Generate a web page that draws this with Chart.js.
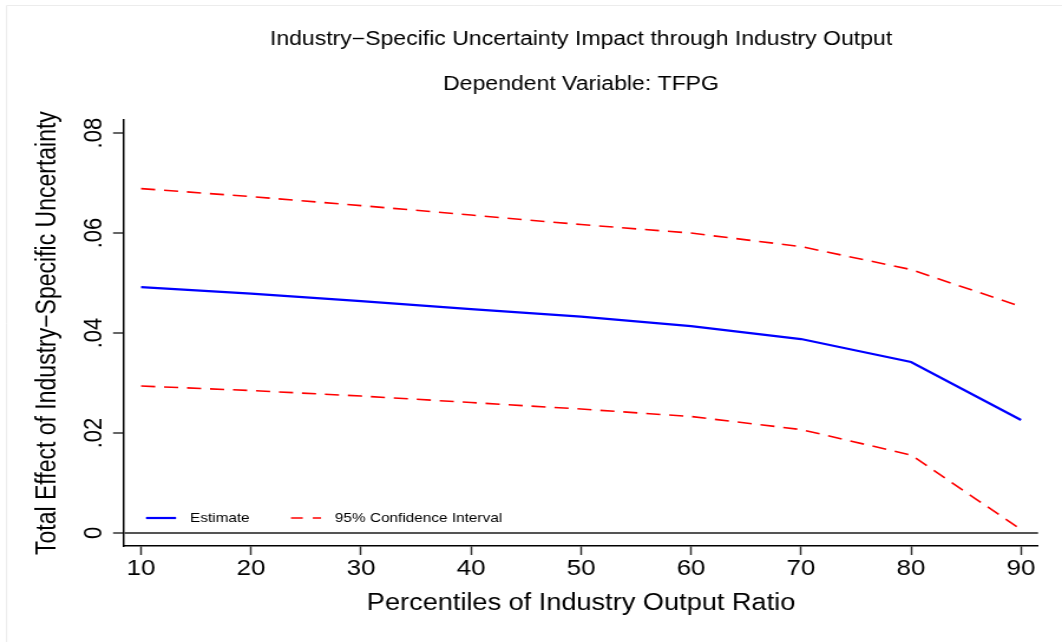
<!DOCTYPE html>
<html>
<head>
<meta charset="utf-8">
<script src="https://cdn.jsdelivr.net/npm/chart.js@4.4.1/dist/chart.umd.min.js"></script>
<style>
  html, body { margin: 0; padding: 0; background: #fff; overflow: hidden; }
  /* Graph is laid out on a 900px-wide canvas and widened to the 1062px window */
  #wrap { width: 900px; height: 642px; transform: scaleX(1.18); transform-origin: 0 0; }
  #c { display: block; width: 900px; height: 642px; }
</style>
</head>
<body>
<div id="wrap"><canvas id="c" width="900" height="642"></canvas></div>
<script>
// Percentiles of the industry output ratio
const percentiles = [10, 20, 30, 40, 50, 60, 70, 80, 90];
// Total effect of industry-specific uncertainty
const estimate = [0.0492, 0.0479, 0.0464, 0.0448, 0.0433, 0.0414, 0.0388, 0.0342, 0.0226];
const ciUpper  = [0.0689, 0.0673, 0.0655, 0.0636, 0.0617, 0.0600, 0.0573, 0.0527, 0.0453];
const ciLower  = [0.0294, 0.0285, 0.0274, 0.0261, 0.0248, 0.0233, 0.0207, 0.0156, 0.0007];

const xTicks = [10, 20, 30, 40, 50, 60, 70, 80, 90];
const yTicks = [0, 0.02, 0.04, 0.06, 0.08];
const yTickLabels = ['0', '.02', '.04', '.06', '.08'];

const titleText = 'Industry\u2212Specific Uncertainty Impact through Industry Output';
const subtitleText = 'Dependent Variable: TFPG';
const xTitle = 'Percentiles of Industry Output Ratio';
const yTitle = 'Total Effect of Industry\u2212Specific Uncertainty';
const seriesLabels = ['Estimate', '95% Confidence Interval'];

const FONT = "'Liberation Sans', Arial, Helvetica, sans-serif";
const toPoints = ys => percentiles.map((p, i) => ({ x: p, y: ys[i] }));

// White page with the faint outer frame
const pageFrame = {
  id: 'pageFrame',
  beforeDraw(chart) {
    const { ctx, width, height } = chart;
    ctx.save();
    ctx.fillStyle = '#fff';
    ctx.fillRect(0, 0, width, height);
    ctx.strokeStyle = '#ececec';
    ctx.lineWidth = 1;
    ctx.beginPath();
    ctx.moveTo(5.6, height);
    ctx.lineTo(5.6, 5.5);
    ctx.lineTo(width, 5.5);
    ctx.stroke();
    ctx.restore();
  }
};

// Key drawn inside the plot region, one entry per distinct series label
const insideLegend = {
  id: 'insideLegend',
  afterDatasetsDraw(chart, args, opts) {
    const { ctx, chartArea } = chart;
    const items = [];
    chart.data.datasets.forEach(ds => {
      if (!items.find(it => it.label === ds.label)) items.push(ds);
    });
    ctx.save();
    ctx.font = `${opts.fontSize}px ${FONT}`;
    ctx.textBaseline = 'middle';
    ctx.textAlign = 'left';
    ctx.fillStyle = '#000';
    let x = chartArea.left + opts.offsetX;
    const y = chartArea.bottom - opts.offsetY;
    items.forEach(ds => {
      ctx.strokeStyle = ds.borderColor;
      ctx.lineWidth = ds.borderWidth;
      ctx.setLineDash(ds.borderDash ? opts.sampleDash : []);
      ctx.beginPath();
      ctx.moveTo(x, y);
      ctx.lineTo(x + opts.sampleWidth, y);
      ctx.stroke();
      ctx.setLineDash([]);
      const tx = x + opts.sampleWidth + opts.textGap;
      ctx.fillText(ds.label, tx, y);
      x = tx + ctx.measureText(ds.label).width + opts.itemGap;
    });
    ctx.restore();
  }
};

new Chart(document.getElementById('c'), {
  type: 'line',
  data: {
    datasets: [
      { label: seriesLabels[0], data: toPoints(estimate), borderColor: '#0000ff', borderWidth: 2.2 },
      { label: seriesLabels[1], data: toPoints(ciUpper), borderColor: '#ff0000', borderWidth: 1.6, borderDash: [12, 7.5] },
      { label: seriesLabels[1], data: toPoints(ciLower), borderColor: '#ff0000', borderWidth: 1.6, borderDash: [12, 7.5] }
    ]
  },
  options: {
    responsive: false,
    animation: false,
    devicePixelRatio: 1,
    layout: { padding: { top: 0, left: 0, right: 20.3, bottom: 0 } },
    elements: { point: { radius: 0 }, line: { tension: 0, fill: false } },
    plugins: {
      legend: { display: false },
      tooltip: { enabled: false },
      title: {
        display: true, text: titleText, fullSize: false, color: '#000',
        font: { family: FONT, size: 19.5, weight: 'normal' },
        padding: { top: 28, bottom: 0 }
      },
      subtitle: {
        display: true, text: subtitleText, fullSize: false, color: '#000',
        font: { family: FONT, size: 19.5, weight: 'normal' },
        padding: { top: 22, bottom: 23.3 }
      },
      insideLegend: {
        fontSize: 13, offsetX: 18.6, offsetY: 28, sampleWidth: 25.5,
        sampleDash: [10, 8.5], textGap: 11.8, itemGap: 35
      }
    },
    scales: {
      x: {
        type: 'linear', min: 8.45, max: 91.55,
        afterBuildTicks: s => { s.ticks = xTicks.map(v => ({ value: v })); },
        afterFit: s => { s.height = 96; },
        border: { display: true, color: '#000', width: 1.5 },
        grid: { drawOnChartArea: false, drawTicks: true, tickLength: 9, tickColor: '#333', tickWidth: 1.5 },
        ticks: { padding: 1, maxRotation: 0, autoSkip: false, color: '#000', font: { family: FONT, size: 22 } },
        title: {
          display: true, text: xTitle, color: '#000',
          font: { family: FONT, size: 23 }, padding: { top: 0, bottom: 24.5 }
        }
      },
      y: {
        type: 'linear', min: -0.0026, max: 0.0826,
        afterBuildTicks: s => { s.ticks = yTicks.map(v => ({ value: v })); },
        afterFit: s => { s.width = 105.1; },
        border: { display: true, color: '#000', width: 1.5 },
        grid: {
          drawOnChartArea: true, drawTicks: true, tickLength: 9.3, tickColor: '#333', tickWidth: 1.5,
          color: c => (c.tick && c.tick.value === 0 ? '#555' : 'rgba(0,0,0,0)'),
          lineWidth: c => (c.tick && c.tick.value === 0 ? 2 : 0)
        },
        ticks: {
          minRotation: 90, maxRotation: 90, crossAlign: 'center', padding: 0.5,
          color: '#000', font: { family: FONT, size: 22 },
          callback: (v, i) => yTickLabels[i]
        },
        title: {
          display: true, text: yTitle, align: 'center', color: '#000',
          font: { family: FONT, size: 23 }, padding: { top: 27, bottom: 0 }
        }
      }
    }
  },
  plugins: [pageFrame, insideLegend]
});
</script>
</body>
</html>
